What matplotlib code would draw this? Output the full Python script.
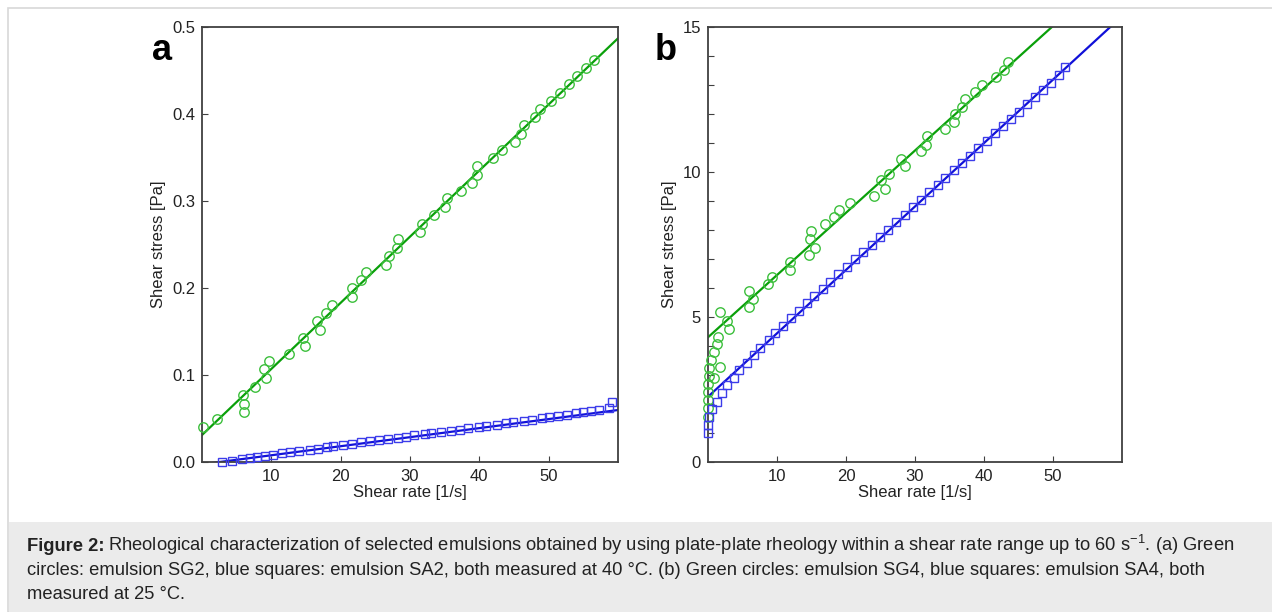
import numpy as np
import matplotlib.pyplot as plt
from matplotlib.patches import Rectangle

plt.rcParams['font.family'] = ['Liberation Sans', 'DejaVu Sans']
plt.rcParams['mathtext.fontset'] = 'custom'
plt.rcParams['mathtext.rm'] = 'Liberation Sans'
plt.rcParams['mathtext.it'] = 'Liberation Sans:italic'

# ---- panel a data ----
a_green_x = [0.15, 2.1, 5.85, 6.1, 6.0, 7.6, 9.0, 9.2, 9.6, 12.5, 14.6, 14.8, 16.6, 17.0,
             17.9, 18.8, 21.7, 21.7, 23.0, 23.7, 26.5, 26.9, 28.1, 28.2, 31.4, 31.8, 33.5,
             35.1, 35.4, 37.3, 38.9, 39.6, 39.7, 42.0, 43.3, 45.1, 46.0, 46.4, 48.0, 48.8,
             50.4, 51.6, 52.9, 54.1, 55.4, 56.5]
a_green_y = [0.0406, 0.049, 0.077, 0.067, 0.057, 0.0866, 0.1065, 0.096, 0.116, 0.124, 0.1425,
             0.133, 0.162, 0.152, 0.1716, 0.181, 0.1996, 0.19, 0.209, 0.2184, 0.227, 0.2368,
             0.2463, 0.256, 0.2647, 0.274, 0.284, 0.2927, 0.303, 0.312, 0.321, 0.330, 0.3406,
             0.349, 0.3586, 0.3675, 0.377, 0.387, 0.397, 0.4057, 0.415, 0.4245, 0.4345,
             0.4437, 0.453, 0.462]
a_blue_x = [2.85, 4.3, 5.8, 6.9, 8.0, 9.1, 10.2, 11.5, 12.7, 14.0, 15.6, 16.8, 18.0, 18.9,
            20.4, 21.7, 23.0, 24.2, 25.5, 26.8, 28.2, 29.4, 30.6, 32.1, 33.1, 34.5, 35.9,
            37.2, 38.4, 39.9, 41.0, 42.5, 43.8, 44.9, 46.5, 47.6, 49.1, 50.0, 51.3, 52.6,
            53.9, 54.9, 56.1, 57.3, 58.7, 59.2]
a_blue_y = [0.0003, 0.0015, 0.003, 0.0045, 0.0057, 0.0073, 0.0084, 0.010, 0.0115, 0.0127,
            0.014, 0.0151, 0.017, 0.0186, 0.0197, 0.021, 0.0225, 0.0237, 0.0253, 0.0264,
            0.0276, 0.0291, 0.0306, 0.0318, 0.0333, 0.0349, 0.036, 0.0371, 0.0387, 0.0402,
            0.0418, 0.0429, 0.0444, 0.0456, 0.0471, 0.0487, 0.0502, 0.0517, 0.0532, 0.0544,
            0.0559, 0.0571, 0.0586, 0.0602, 0.0617, 0.069]
a_green_fit = (0.0076, 0.031)     # slope, intercept
a_blue_fit = (0.00104, -0.00265)

# ---- panel b data ----
b_green_x = [0.0, 0.0, 0.0, 0.0, 0.05, 0.1, 0.1, 0.4, 0.8, 0.9, 1.3, 1.5, 1.75, 1.75, 2.8,
             3.0, 6.0, 6.0, 6.45, 8.7, 9.3, 11.9, 11.9, 14.7, 14.8, 14.9, 15.5, 17.0, 18.2,
             18.95, 20.6, 24.1, 25.0, 25.6, 26.3, 28.0, 28.6, 30.8, 31.6, 31.7, 34.4, 35.7,
             35.8, 36.8, 37.2, 38.7, 39.7, 41.8, 42.95, 43.5]
b_green_y = [1.56, 1.85, 2.14, 2.43, 2.69, 2.97, 3.23, 3.52, 3.78, 2.89, 4.06, 4.32, 3.26,
             5.16, 4.86, 4.59, 5.36, 5.91, 5.62, 6.14, 6.39, 6.62, 6.91, 7.14, 7.68, 7.97,
             7.39, 8.21, 8.46, 8.69, 8.94, 9.18, 9.72, 9.41, 9.93, 10.45, 10.2, 10.71, 10.94,
             11.24, 11.47, 11.73, 11.99, 12.25, 12.51, 12.77, 13.0, 13.29, 13.52, 13.80]
b_blue_x = [0.0, 0.0, 0.15, 0.6, 1.35, 2.1, 2.8, 3.7, 4.5, 5.6, 6.7, 7.5, 8.8, 9.75, 10.9,
            12.0, 13.2, 14.35, 15.4, 16.6, 17.7, 18.9, 20.1, 21.3, 22.5, 23.7, 24.9, 26.1,
            27.3, 28.5, 29.7, 30.8, 32.0, 33.3, 34.4, 35.6, 36.8, 38.0, 39.2, 40.4, 41.6,
            42.7, 43.9, 45.1, 46.2, 47.4, 48.5, 49.7, 50.8, 51.8]
b_blue_y = [1.01, 1.28, 1.56, 1.82, 2.08, 2.37, 2.66, 2.91, 3.17, 3.43, 3.69, 3.92, 4.21,
            4.44, 4.70, 4.95, 5.21, 5.47, 5.72, 5.98, 6.22, 6.48, 6.73, 7.0, 7.25, 7.48,
            7.75, 8.0, 8.27, 8.52, 8.78, 9.03, 9.30, 9.55, 9.80, 10.07, 10.32, 10.56, 10.82,
            11.07, 11.33, 11.59, 11.83, 12.08, 12.33, 12.58, 12.83, 13.08, 13.34, 13.61]
b_green_fit = (0.2147, 4.3)
b_blue_fit = (0.2187, 2.25)

caption_line1 = "Rheological characterization of selected emulsions obtained by using plate-plate rheology within a shear rate range up to 60 s$^{-1}$. (a) Green"
caption_line2 = "circles: emulsion SG2, blue squares: emulsion SA2, both measured at 40 °C. (b) Green circles: emulsion SG4, blue squares: emulsion SA4, both"
caption_line3 = "measured at 25 °C."

green_line = '#0aa00a'
green_mark = '#3cbf3c'
blue_line = '#1010d8'
blue_mark = '#3c3cea'
spine_col = '#404040'
text_col = '#222222'

fig = plt.figure(figsize=(12.72, 6.12), dpi=100)

# outer frame and caption band
fig.patches.append(Rectangle((8 / 1272, 0), 1.0, 604 / 612, transform=fig.transFigure,
                             facecolor='white', edgecolor='#d8d8d8', linewidth=1.2, zorder=-2))
fig.patches.append(Rectangle((8.6 / 1272, 0), 1.0, 90 / 612, transform=fig.transFigure,
                             facecolor='#ebebeb', edgecolor='none', zorder=-1))

ax1 = fig.add_axes([202 / 1272, 1 - 462 / 612, 416 / 1272, 435 / 612])
ax2 = fig.add_axes([708 / 1272, 1 - 462 / 612, 414 / 1272, 435 / 612])

xfit = np.linspace(0, 60, 200)
circ = dict(mfc='none', mec=green_mark, ms=6.8, mew=1.0, clip_on=False, zorder=3)
sq = dict(mfc='none', mec=blue_mark, ms=5.6, mew=1.0, clip_on=False, zorder=3)

ax1.plot(a_green_x, a_green_y, 'o', **circ)
ax1.plot(a_blue_x, a_blue_y, 's', **sq)
ax1.plot(xfit, a_green_fit[0] * xfit + a_green_fit[1], color=green_line, lw=1.6)
ax1.plot(xfit, a_blue_fit[0] * xfit + a_blue_fit[1], color=blue_line, lw=1.6)
ax1.set_xlim(0, 60)
ax1.set_ylim(0, 0.5)
ax1.set_xticks([10, 20, 30, 40, 50])
ax1.set_yticks([0, 0.1, 0.2, 0.3, 0.4, 0.5])
ax1.set_yticklabels(['0.0', '0.1', '0.2', '0.3', '0.4', '0.5'])

ax2.plot(b_green_x, b_green_y, 'o', **circ)
ax2.plot(b_blue_x, b_blue_y, 's', **sq)
ax2.plot(xfit, b_green_fit[0] * xfit + b_green_fit[1], color=green_line, lw=1.6)
ax2.plot(xfit, b_blue_fit[0] * xfit + b_blue_fit[1], color=blue_line, lw=1.6)
ax2.set_xlim(0, 60)
ax2.set_ylim(0, 15)
ax2.set_xticks([10, 20, 30, 40, 50])
ax2.set_yticks([0, 5, 10, 15])
ax2.set_yticks(np.arange(0, 16, 1), minor=True)

for ax in (ax1, ax2):
    for s in ax.spines.values():
        s.set_color(spine_col)
        s.set_linewidth(1.3)
    ax.tick_params(which='both', direction='in', length=4, width=0.8, color=spine_col,
                   labelsize=12, labelcolor=text_col, pad=5)
    ax.set_xlabel('Shear rate [1/s]', fontsize=12, color=text_col, labelpad=1)
    ax.set_ylabel('Shear stress [Pa]', fontsize=12, color=text_col, labelpad=4)

fig.text(162 / 1272, 1 - 51 / 612, 'a', fontsize=26, fontweight='bold', ha='center', va='center')
fig.text(666 / 1272, 1 - 51 / 612, 'b', fontsize=26, fontweight='bold', ha='center', va='center')

# caption
cap_fs = 13.2
t = fig.text(27 / 1272, 1 - 551 / 612, 'Figure 2:', fontsize=cap_fs, fontweight='bold',
             color=text_col, va='baseline')
fig.canvas.draw()
bb = t.get_window_extent(renderer=fig.canvas.get_renderer())
fig.text(bb.x1 / 1272 + 4 / 1272, 1 - 551 / 612, caption_line1, fontsize=cap_fs,
         color=text_col, va='baseline')
fig.text(27 / 1272, 1 - 575 / 612, caption_line2, fontsize=cap_fs, color=text_col, va='baseline')
fig.text(27 / 1272, 1 - 599 / 612, caption_line3, fontsize=cap_fs, color=text_col, va='baseline')

fig.savefig('out.png', dpi=100)
